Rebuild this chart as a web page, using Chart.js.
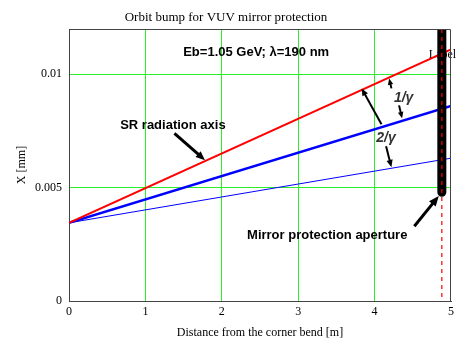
<!DOCTYPE html>
<html>
<head>
<meta charset="utf-8">
<script src="https://cdn.jsdelivr.net/npm/chart.js@4.4.0/dist/chart.umd.min.js"></script>
<style>
  html, body { margin: 0; padding: 0; background: #fff; }
</style>
</head>
<body>
<canvas id="bumpChart" width="458" height="342"></canvas>
<script>
// distances [m] and orbit offsets X [mm]
const distance = [0, 5];
const srAxis = [0.00345, 0.0111];
const oneGamma = [0.00345, 0.0086];
const twoGamma = [0.00345, 0.0063];
const aperturePos = 4.88;
const apertureSpan = [0.012, 0.0048];
const markerSpan = [0.012, 0];
const xTicks = [0, 1, 2, 3, 4, 5];
const yTicks = [0, 0.005, 0.01];

const pts = (xs, ys) => xs.map((x, i) => ({ x: x, y: ys[i] }));

// text notes and arrows, placed in data units
const notes = [
    { text: 'Eb=1.05 GeV; \u03bb=190 nm', x: 2.45, y: 0.01097, font: 'bold 13px "Liberation Sans"' },
    { text: 'SR radiation axis', x: 1.36, y: 0.00775, font: 'bold 13px "Liberation Sans"' },
    { text: '1/\u03b3', x: 4.38, y: 0.00894, font: 'italic bold 14px "Liberation Sans"', color: '#333' },
    { text: '2/\u03b3', x: 4.15, y: 0.00718, font: 'italic bold 14px "Liberation Sans"', color: '#333' },
    { text: 'Mirror protection aperture', x: 3.38, y: 0.00291, font: 'bold 13px "Liberation Sans"' }
];
const arrows = [
    { from: [1.38, 0.0074], to: [1.78, 0.00621], w: 3, head: 10 },
    { from: [4.22, 0.00938], to: [4.19, 0.00982], w: 2, head: 7 },
    { from: [4.32, 0.00863], to: [4.36, 0.00806], w: 2, head: 7 },
    { from: [4.09, 0.0078], to: [3.83, 0.00938], w: 2, head: 8 },
    { from: [4.15, 0.00683], to: [4.22, 0.0059], w: 2, head: 8 },
    { from: [4.52, 0.0033], to: [4.84, 0.00463], w: 3, head: 11 }
];

function drawArrow(ctx, x1, y1, x2, y2, w, head) {
    const a = Math.atan2(y2 - y1, x2 - x1);
    const bx = x2 - Math.cos(a) * head * 0.8;
    const by = y2 - Math.sin(a) * head * 0.8;
    ctx.strokeStyle = '#000';
    ctx.fillStyle = '#000';
    ctx.lineWidth = w;
    ctx.beginPath();
    ctx.moveTo(x1, y1);
    ctx.lineTo(bx, by);
    ctx.stroke();
    ctx.beginPath();
    ctx.moveTo(x2, y2);
    ctx.lineTo(x2 - head * Math.cos(a - 0.4), y2 - head * Math.sin(a - 0.4));
    ctx.lineTo(x2 - head * Math.cos(a + 0.4), y2 - head * Math.sin(a + 0.4));
    ctx.closePath();
    ctx.fill();
}

const notesPlugin = {
    id: 'notes',
    beforeDatasetsDraw(chart) {
        const ctx = chart.ctx;
        const xs = chart.scales.x, ys = chart.scales.y;
        ctx.save();
        // "Label" sits behind the aperture bar
        ctx.font = '12px "Liberation Serif"';
        ctx.fillStyle = '#000';
        ctx.textBaseline = 'middle';
        ctx.textAlign = 'left';
        ctx.fillText('Label', xs.getPixelForValue(4.71), ys.getPixelForValue(0.01088));
        ctx.restore();
    },
    afterDraw(chart) {
        const ctx = chart.ctx;
        const a = chart.chartArea;
        const xs = chart.scales.x, ys = chart.scales.y;
        ctx.save();
        // frame
        ctx.strokeStyle = '#444';
        ctx.lineWidth = 1;
        ctx.beginPath();
        ctx.moveTo(a.left, a.top + 0.5);
        ctx.lineTo(a.right - 0.5, a.top + 0.5);
        ctx.lineTo(a.right - 0.5, a.bottom);
        ctx.stroke();

        ctx.textAlign = 'center';
        ctx.textBaseline = 'middle';
        notes.forEach(n => {
            ctx.font = n.font;
            ctx.fillStyle = n.color || '#000';
            ctx.fillText(n.text, xs.getPixelForValue(n.x), ys.getPixelForValue(n.y));
        });
        arrows.forEach(r => {
            drawArrow(ctx,
                xs.getPixelForValue(r.from[0]), ys.getPixelForValue(r.from[1]),
                xs.getPixelForValue(r.to[0]), ys.getPixelForValue(r.to[1]),
                r.w, r.head);
        });
        ctx.restore();
    }
};

const gridColor = (ctx) => {
    const v = ctx.tick ? ctx.tick.value : null;
    return (v === 0 || v === 5) ? 'rgba(0,0,0,0)' : '#2bef2b';
};

const ctx1 = document.getElementById('bumpChart').getContext('2d');
const bumpChart = new Chart(ctx1, {
    type: 'line',
    data: {
        datasets: [
            {
                label: 'marker',
                data: pts([aperturePos, aperturePos], markerSpan),
                borderColor: '#ff0000',
                borderWidth: 1.2,
                borderDash: [4, 4],
                order: 0
            },
            {
                label: 'aperture',
                data: pts([aperturePos, aperturePos], apertureSpan),
                borderColor: '#000',
                borderWidth: 9,
                borderCapStyle: 'round',
                order: 1
            },
            {
                label: 'SR axis',
                data: pts(distance, srAxis),
                borderColor: '#ff0000',
                borderWidth: 2,
                order: 2
            },
            {
                label: '1/gamma',
                data: pts(distance, oneGamma),
                borderColor: '#0000ff',
                borderWidth: 2.5,
                order: 3
            },
            {
                label: '2/gamma',
                data: pts(distance, twoGamma),
                borderColor: '#0000ff',
                borderWidth: 1,
                order: 4
            }
        ]
    },
    options: {
        responsive: false,
        animation: false,
        layout: { padding: { left: 0, right: 6, top: 0, bottom: 0 } },
        elements: { point: { radius: 0 }, line: { tension: 0 } },
        plugins: {
            legend: { display: false },
            tooltip: { enabled: false },
            title: {
                display: true,
                text: 'Orbit bump for VUV mirror protection',
                color: '#000',
                font: { family: 'Liberation Serif', size: 13, weight: 'normal' },
                padding: { top: 10, bottom: 3.4 }
            }
        },
        scales: {
            x: {
                type: 'linear',
                min: 0,
                max: 5,
                afterBuildTicks: (s) => { s.ticks = xTicks.map(v => ({ value: v })); },
                afterFit: (s) => { s.height = 41; },
                grid: { color: gridColor, drawTicks: false },
                border: { color: '#444' },
                ticks: {
                    padding: 4,
                    color: '#000',
                    font: { family: 'Liberation Serif', size: 12 },
                    callback: (v) => String(v)
                },
                title: {
                    display: true,
                    text: 'Distance from the corner bend [m]',
                    color: '#000',
                    font: { family: 'Liberation Serif', size: 12 },
                    padding: { top: 2, bottom: 2 }
                }
            },
            y: {
                type: 'linear',
                min: 0,
                max: 0.012,
                afterBuildTicks: (s) => { s.ticks = yTicks.map(v => ({ value: v })); },
                afterFit: (s) => { s.width = 69; },
                grid: { color: gridColor, drawTicks: false },
                border: { color: '#444' },
                ticks: {
                    padding: 7,
                    color: '#000',
                    font: { family: 'Liberation Serif', size: 12 },
                    callback: (v) => String(v)
                },
                title: {
                    display: true,
                    text: 'X [mm]',
                    color: '#000',
                    font: { family: 'Liberation Serif', size: 12 },
                    padding: { top: 15, bottom: 0 }
                }
            }
        }
    },
    plugins: [notesPlugin]
});
</script>
</body>
</html>
